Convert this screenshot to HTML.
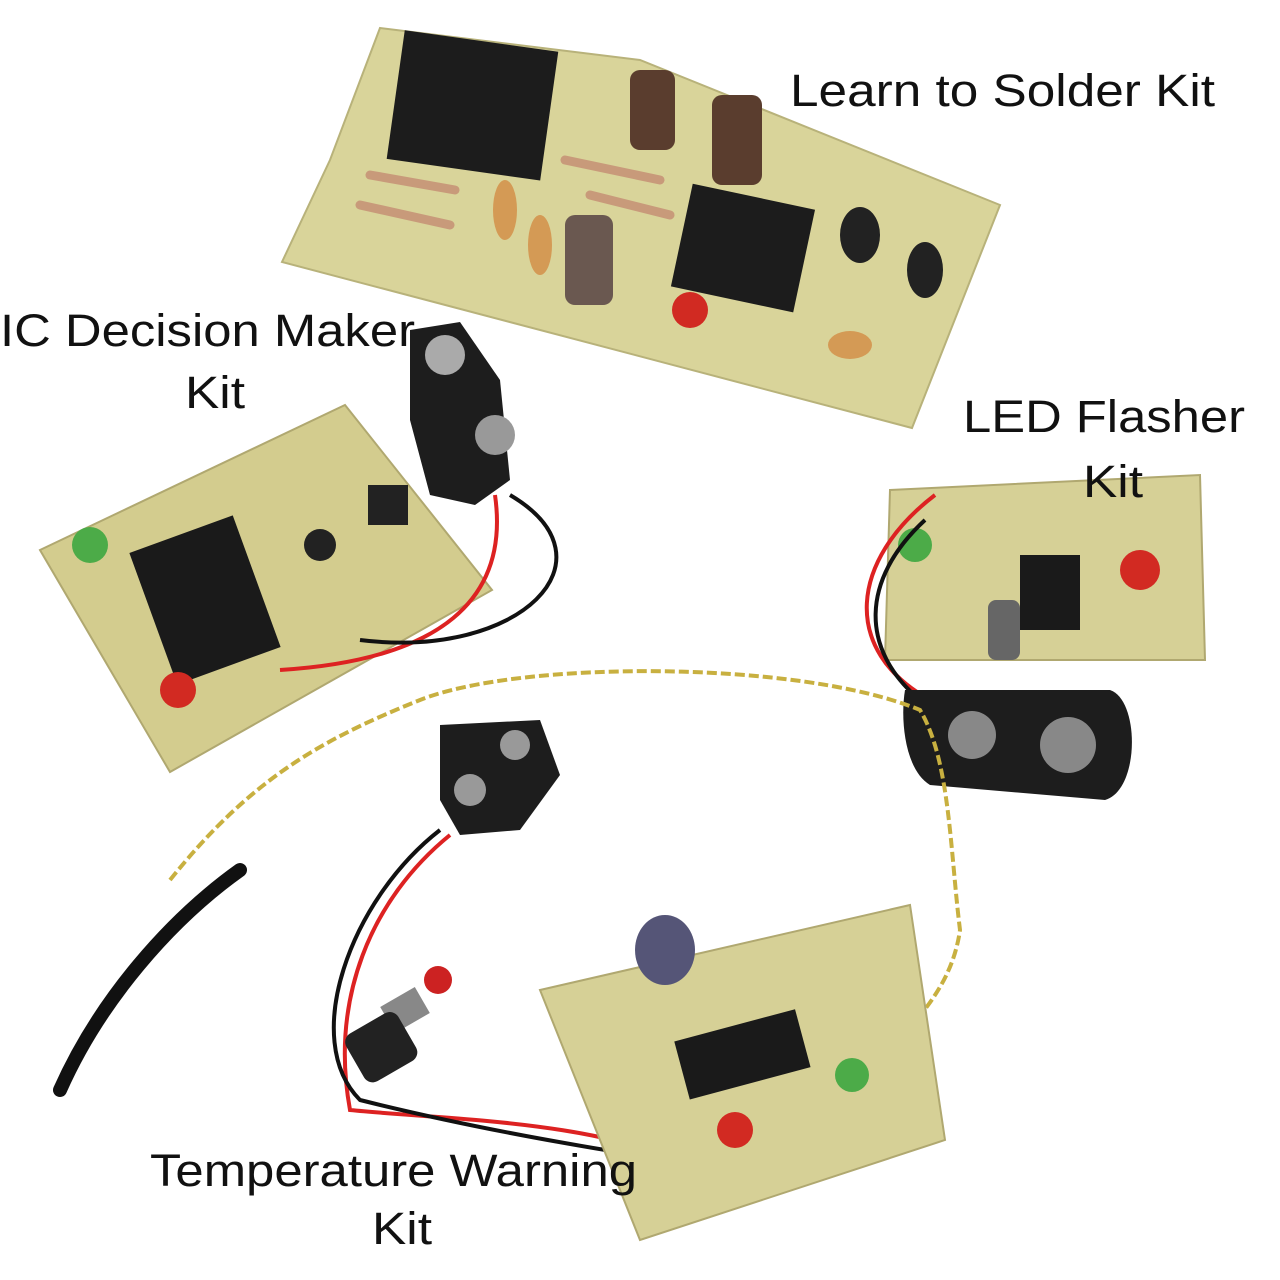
<!DOCTYPE html>
<html><head><meta charset="utf-8"><style>
html,body{margin:0;padding:0;background:#fff;}
svg{display:block}
text{font-family:"Liberation Sans",sans-serif;fill:#111;}
</style></head><body>
<svg width="1280" height="1280" viewBox="0 0 1280 1280" xmlns="http://www.w3.org/2000/svg">
<rect width="1280" height="1280" fill="#fff"/>
<polygon points="380,28 640,60 1000,205 912,428 282,262 330,160" fill="#d9d49a" stroke="#b8b27a" stroke-width="2"/>
<rect x="395" y="40" width="155" height="130" fill="#1c1c1c" transform="rotate(8 470 105)"/>
<rect x="680" y="195" width="125" height="105" fill="#1c1c1c" transform="rotate(12 740 250)"/>
<rect x="630" y="70" width="45" height="80" rx="10" fill="#5a3d2e"/>
<rect x="712" y="95" width="50" height="90" rx="10" fill="#5a3d2e"/>
<rect x="565" y="215" width="48" height="90" rx="10" fill="#6a5850"/>
<ellipse cx="860" cy="235" rx="20" ry="28" fill="#222"/>
<ellipse cx="925" cy="270" rx="18" ry="28" fill="#222"/>
<circle cx="690" cy="310" r="18" fill="#d12a22"/>
<ellipse cx="505" cy="210" rx="12" ry="30" fill="#d49a55"/>
<ellipse cx="540" cy="245" rx="12" ry="30" fill="#d49a55"/>
<ellipse cx="850" cy="345" rx="22" ry="14" fill="#d49a55"/>
<g stroke="#c89a7a" stroke-width="9" stroke-linecap="round">
<line x1="370" y1="175" x2="455" y2="190"/><line x1="360" y1="205" x2="450" y2="225"/>
<line x1="565" y1="160" x2="660" y2="180"/><line x1="590" y1="195" x2="670" y2="215"/>
</g>
<polygon points="40,550 345,405 492,590 170,772" fill="#d3cc8e" stroke="#b0a870" stroke-width="2"/>
<rect x="150" y="530" width="110" height="140" fill="#1a1a1a" transform="rotate(-20 205 600)"/>
<rect x="368" y="485" width="40" height="40" fill="#222"/>
<circle cx="90" cy="545" r="18" fill="#4cab48"/>
<circle cx="178" cy="690" r="18" fill="#d22a22"/>
<circle cx="320" cy="545" r="16" fill="#222"/>
<path d="M410,330 L460,322 L500,380 L510,480 L475,505 L430,495 L410,420 Z" fill="#1d1d1d"/>
<circle cx="445" cy="355" r="20" fill="#aaa"/><circle cx="495" cy="435" r="20" fill="#999"/>
<path d="M495,495 C510,600 440,660 280,670" stroke="#d22" stroke-width="4" fill="none"/>
<path d="M510,495 C620,560 520,660 360,640" stroke="#111" stroke-width="4" fill="none"/>
<polygon points="890,490 1200,475 1205,660 885,660" fill="#d6d096" stroke="#b0a870" stroke-width="2"/>
<rect x="1020" y="555" width="60" height="75" fill="#1a1a1a"/>
<circle cx="915" cy="545" r="17" fill="#4cab48"/>
<circle cx="1140" cy="570" r="20" fill="#d22a22"/>
<rect x="988" y="600" width="32" height="60" rx="8" fill="#666"/>
<path d="M935,495 C850,560 840,650 930,700" stroke="#d22" stroke-width="4" fill="none"/>
<path d="M925,520 C860,580 860,650 920,700" stroke="#111" stroke-width="4" fill="none"/>
<path d="M905,690 L1110,690 C1140,700 1140,790 1105,800 L930,785 C905,770 900,720 905,690 Z" fill="#1d1d1d"/>
<circle cx="972" cy="735" r="24" fill="#888"/><circle cx="1068" cy="745" r="28" fill="#888"/>
<path d="M170,880 C250,780 320,740 420,700 C520,660 800,660 920,710 C950,760 950,850 960,930 C950,1000 900,1030 870,1080" stroke="#c8b040" stroke-width="4" fill="none" stroke-dasharray="10,4"/>
<path d="M60,1090 C100,1000 170,920 240,870" stroke="#111" stroke-width="14" fill="none" stroke-linecap="round"/>
<path d="M440,725 L540,720 L560,775 L520,830 L460,835 L440,800 Z" fill="#1d1d1d"/>
<circle cx="470" cy="790" r="16" fill="#999"/><circle cx="515" cy="745" r="15" fill="#999"/>
<path d="M450,835 C370,900 330,1000 350,1110 C450,1120 600,1120 700,1170" stroke="#d22" stroke-width="4" fill="none"/>
<path d="M440,830 C350,900 300,1040 360,1100 C480,1130 600,1150 700,1165" stroke="#111" stroke-width="4" fill="none"/>
<rect x="385" y="995" width="40" height="30" fill="#888" transform="rotate(-30 405 1010)"/>
<rect x="350" y="1020" width="60" height="55" rx="10" fill="#222" transform="rotate(-30 380 1045)"/>
<circle cx="438" cy="980" r="14" fill="#c22"/>
<polygon points="540,990 910,905 945,1140 640,1240" fill="#d6d096" stroke="#b0a870" stroke-width="2"/>
<rect x="680" y="1025" width="125" height="60" fill="#1a1a1a" transform="rotate(-15 740 1055)"/>
<ellipse cx="665" cy="950" rx="30" ry="35" fill="#557" />
<circle cx="852" cy="1075" r="17" fill="#4cab48"/>
<circle cx="735" cy="1130" r="18" fill="#d22a22"/>
<text x="790" y="106" font-size="45" textLength="425" lengthAdjust="spacingAndGlyphs">Learn to Solder Kit</text>
<text x="0" y="346" font-size="45" textLength="415" lengthAdjust="spacingAndGlyphs">IC Decision Maker</text>
<text x="185" y="408" font-size="45" textLength="60" lengthAdjust="spacingAndGlyphs">Kit</text>
<text x="963" y="432" font-size="45" textLength="282" lengthAdjust="spacingAndGlyphs">LED Flasher</text>
<text x="1083" y="497" font-size="45" textLength="60" lengthAdjust="spacingAndGlyphs">Kit</text>
<text x="150" y="1186" font-size="45" textLength="487" lengthAdjust="spacingAndGlyphs">Temperature Warning</text>
<text x="372" y="1244" font-size="45" textLength="60" lengthAdjust="spacingAndGlyphs">Kit</text>
</svg>
</body></html>
